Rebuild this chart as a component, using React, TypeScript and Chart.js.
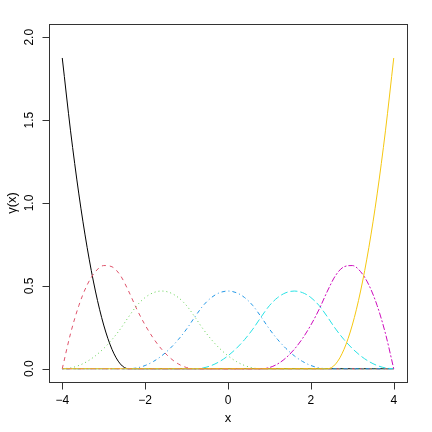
import React, { useEffect, useRef } from "react";
import { Chart, registerables } from "chart.js";

Chart.register(...registerables);

const xValues = [
  -4, -3.8, -3.6, -3.4, -3.2, -3, -2.8, -2.6, -2.4, -2.2, -2, -1.8, -1.6, -1.4,
  -1.2, -1, -0.8, -0.6, -0.4, -0.2, 0, 0.2, 0.4, 0.6, 0.8, 1, 1.2, 1.4, 1.6, 1.8,
  2, 2.2, 2.4, 2.6, 2.8, 3, 3.2, 3.4, 3.6, 3.8, 4,
];

const basis1 = [
  1.875, 1.4355, 1.0547, 0.7324, 0.4688, 0.2637, 0.1172, 0.0293, 0, 0, 0, 0, 0, 0,
  0, 0, 0, 0, 0, 0, 0, 0, 0, 0, 0, 0, 0, 0, 0, 0, 0, 0, 0, 0, 0, 0, 0, 0, 0, 0, 0,
];
const basis2 = [
  0, 0.2124, 0.3809, 0.5054, 0.5859, 0.6226, 0.6152, 0.564, 0.4688, 0.3589, 0.2637,
  0.1831, 0.1172, 0.0659, 0.0293, 0.0073, 0, 0, 0, 0, 0, 0, 0, 0, 0, 0, 0, 0, 0, 0,
  0, 0, 0, 0, 0, 0, 0, 0, 0, 0, 0,
];
const basis3 = [
  0, 0.0049, 0.0195, 0.0439, 0.0781, 0.1221, 0.1758, 0.2393, 0.3125, 0.3809, 0.4297,
  0.459, 0.4688, 0.459, 0.4297, 0.3809, 0.3125, 0.2393, 0.1758, 0.1221, 0.0781,
  0.0439, 0.0195, 0.0049, 0, 0, 0, 0, 0, 0, 0, 0, 0, 0, 0, 0, 0, 0, 0, 0, 0,
];
const basis4 = [
  0, 0, 0, 0, 0, 0, 0, 0, 0, 0.0049, 0.0195, 0.0439, 0.0781, 0.1221, 0.1758, 0.2393,
  0.3125, 0.3809, 0.4297, 0.459, 0.4688, 0.459, 0.4297, 0.3809, 0.3125, 0.2393,
  0.1758, 0.1221, 0.0781, 0.0439, 0.0195, 0.0049, 0, 0, 0, 0, 0, 0, 0, 0, 0,
];
const basis5 = [
  0, 0, 0, 0, 0, 0, 0, 0, 0, 0, 0, 0, 0, 0, 0, 0, 0, 0.0049, 0.0195, 0.0439, 0.0781,
  0.1221, 0.1758, 0.2393, 0.3125, 0.3809, 0.4297, 0.459, 0.4688, 0.459, 0.4297,
  0.3809, 0.3125, 0.2393, 0.1758, 0.1221, 0.0781, 0.0439, 0.0195, 0.0049, 0,
];
const basis6 = [
  0, 0, 0, 0, 0, 0, 0, 0, 0, 0, 0, 0, 0, 0, 0, 0, 0, 0, 0, 0, 0, 0, 0, 0, 0, 0.0073,
  0.0293, 0.0659, 0.1172, 0.1831, 0.2637, 0.3589, 0.4688, 0.564, 0.6152, 0.6226,
  0.5859, 0.5054, 0.3809, 0.2124, 0,
];
const basis7 = [
  0, 0, 0, 0, 0, 0, 0, 0, 0, 0, 0, 0, 0, 0, 0, 0, 0, 0, 0, 0, 0, 0, 0, 0, 0, 0, 0, 0,
  0, 0, 0, 0, 0, 0.0293, 0.1172, 0.2637, 0.4688, 0.7324, 1.0547, 1.4355, 1.875,
];

const seriesList = [basis1, basis2, basis3, basis4, basis5, basis6, basis7];
const seriesColors = ["#000000", "#DF536B", "#61D04F", "#2297E6", "#28E2E5", "#CD0BBC", "#F5C710"];
const seriesDashes = [[], [4, 4], [1, 3], [1, 3, 4, 3], [7, 3], [2, 2, 6, 2], []];

const xTicks = [-4, -2, 0, 2, 4];
const xTickLabels = ["\u22124", "\u22122", "0", "2", "4"];
const yTicks = [0, 0.5, 1, 1.5, 2];
const yTickLabels = ["0.0", "0.5", "1.0", "1.5", "2.0"];
const xTitle = "x";
const yTitle = "\u03b3(x)";

const FONT = '"Liberation Sans", Arial, sans-serif';

const rAxesPlugin = {
  id: "rAxes",
  afterDraw(chart: any) {
    const { ctx, chartArea: a, scales } = chart;
    const xs = scales.x;
    const ys = scales.y;
    const L = Math.round(a.left) + 0.5;
    const T = Math.round(a.top) + 0.5;
    const R = Math.round(a.right) + 0.5;
    const B = Math.round(a.bottom) + 0.5;
    ctx.save();
    ctx.strokeStyle = "#333333";
    ctx.lineWidth = 1;
    ctx.strokeRect(L, T, R - L, B - T);

    ctx.beginPath();
    xTicks.forEach((v) => {
      const p = Math.round(xs.getPixelForValue(v)) + 0.5;
      ctx.moveTo(p, B);
      ctx.lineTo(p, B + 7);
    });
    yTicks.forEach((v) => {
      const p = Math.round(ys.getPixelForValue(v)) + 0.5;
      ctx.moveTo(L, p);
      ctx.lineTo(L - 7, p);
    });
    ctx.stroke();

    ctx.fillStyle = "#000000";
    ctx.font = `12px ${FONT}`;
    ctx.textAlign = "center";
    ctx.textBaseline = "middle";
    xTicks.forEach((v, i) => {
      ctx.fillText(xTickLabels[i], xs.getPixelForValue(v), 401);
    });
    yTicks.forEach((v, i) => {
      ctx.save();
      ctx.translate(30, ys.getPixelForValue(v));
      ctx.rotate(-Math.PI / 2);
      ctx.fillText(yTickLabels[i], 0, 0);
      ctx.restore();
    });

    ctx.font = `13px ${FONT}`;
    ctx.fillText(xTitle, (a.left + a.right) / 2, 418);
    ctx.save();
    ctx.translate(12, (a.top + a.bottom) / 2);
    ctx.rotate(-Math.PI / 2);
    ctx.fillText(yTitle, 0, 0);
    ctx.restore();
    ctx.restore();
  },
};

export default function App() {
  const canvasRef = useRef<HTMLCanvasElement | null>(null);

  useEffect(() => {
    if (!canvasRef.current) return;
    const datasets = seriesList.map((s, i) => ({
      label: `B${i + 1}`,
      data: xValues.map((x, j) => ({ x, y: s[j] })),
      borderColor: seriesColors[i],
      borderWidth: 1,
      borderDash: seriesDashes[i],
      pointRadius: 0,
      fill: false,
      cubicInterpolationMode: "monotone" as const,
      order: 6 - i,
    }));
    const chart = new Chart(canvasRef.current, {
      type: "line",
      data: { datasets },
      options: {
        responsive: false,
        animation: false,
        devicePixelRatio: 1,
        layout: { padding: { left: 49, right: 25, top: 24, bottom: 50 } },
        plugins: { legend: { display: false }, tooltip: { enabled: false } },
        scales: {
          x: { type: "linear", min: -4.32, max: 4.32, display: false },
          y: { type: "linear", min: -0.08, max: 2.08, display: false },
        },
      },
      plugins: [rAxesPlugin],
    });
    return () => chart.destroy();
  }, []);

  return (
    <div style={{ position: "fixed", left: 0, top: 0, width: 432, height: 432, background: "#fff" }}>
      <canvas ref={canvasRef} width={432} height={432} style={{ width: 432, height: 432, display: "block" }} />
    </div>
  );
}
